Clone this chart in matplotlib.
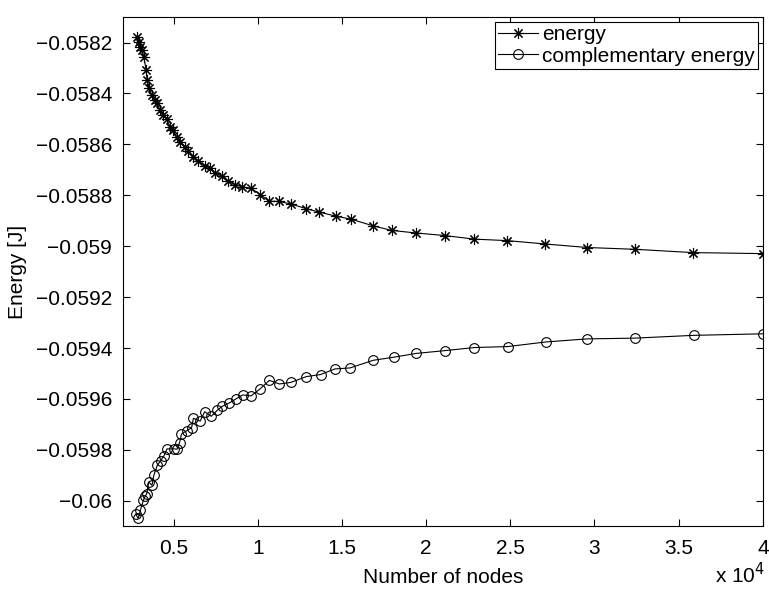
import matplotlib.pyplot as plt
from matplotlib.ticker import FuncFormatter

nodes_energy = [2840, 2940, 3030, 3130, 3230, 3370, 3430, 3560, 3700, 3870,
                4010, 4210, 4400, 4590, 4800, 4990, 5180, 5380, 5680, 5870,
                6160, 6470, 6870, 7170, 7470, 7860, 8250, 8660, 9050, 9610,
                10160, 10650, 11290, 11960, 12860, 13650, 14650, 15560, 16860, 17960,
                19420, 21100, 22860, 24830, 27040, 29580, 32390, 35860, 40000]
energy = [-0.058178, -0.058196, -0.058216, -0.058229, -0.058255, -0.058308, -0.058347,
          -0.058380, -0.058406, -0.058426, -0.058438, -0.058466, -0.058486, -0.058499,
          -0.058532, -0.058545, -0.058572, -0.058592, -0.058611, -0.058624, -0.058651,
          -0.058665, -0.058685, -0.058692, -0.058712, -0.058725, -0.058745, -0.058758,
          -0.058766, -0.058773, -0.058797, -0.058823, -0.058824, -0.058834, -0.058852,
          -0.058866, -0.058882, -0.058894, -0.058920, -0.058938, -0.058948, -0.058958,
          -0.058972, -0.058978, -0.058991, -0.059005, -0.059012, -0.059025, -0.059029]

nodes_compl = [2750, 2900, 3030, 3210, 3310, 3410, 3520, 3720, 3830, 4030,
               4240, 4440, 4610, 5010, 5210, 5360, 5470, 5770, 6070, 6180,
               6580, 6850, 7240, 7590, 7890, 8300, 8700, 9110, 9600,
               10110, 10690, 11280, 11960, 12890, 13730, 14580, 15480, 16860, 18070,
               19410, 21120, 22850, 24860, 27110, 29550, 32380, 35890, 40000]
compl_energy = [-0.060052, -0.060069, -0.060037, -0.059998, -0.059982, -0.059972,
                -0.059926, -0.059939, -0.059900, -0.059861, -0.059842, -0.059822,
                -0.059796, -0.059796, -0.059797, -0.059771, -0.059738, -0.059725,
                -0.059713, -0.059676, -0.059687, -0.059650, -0.059668, -0.059645,
                -0.059629, -0.059616, -0.059600, -0.059584, -0.059588, -0.059562,
                -0.059527, -0.059541, -0.059535, -0.059512, -0.059504, -0.059482,
                -0.059478, -0.059448, -0.059436, -0.059421, -0.059410, -0.059398,
                -0.059394, -0.059376, -0.059364, -0.059361, -0.059350, -0.059344]

x_ticks = [5000, 10000, 15000, 20000, 25000, 30000, 35000, 40000]
y_ticks = [-0.0582, -0.0584, -0.0586, -0.0588, -0.059, -0.0592,
           -0.0594, -0.0596, -0.0598, -0.06]

plt.rcParams['font.family'] = ['Liberation Sans', 'DejaVu Sans']
fs = 15

fig = plt.figure(figsize=(7.69, 5.90), dpi=100)
ax = fig.add_axes([0.16, 0.108, 0.832, 0.863])

# MATLAB-artiges Sternchen: 8 Strahlen
ax.plot(nodes_energy, energy, color='black', linewidth=0.8, marker=(8, 2, 0),
        markersize=8, markeredgewidth=0.8, label='energy')
ax.plot(nodes_compl, compl_energy, color='black', linewidth=0.8, marker='o',
        markersize=7, markerfacecolor='none', markeredgewidth=0.8,
        label='complementary energy')

ax.set_xlim(2000, 40000)
ax.set_ylim(-0.0601, -0.0581)
ax.set_xticks(x_ticks)
ax.set_yticks(y_ticks)
ax.xaxis.set_major_formatter(FuncFormatter(lambda v, p: '%g' % (v / 1e4)))
ax.yaxis.set_major_formatter(FuncFormatter(lambda v, p: ('%g' % v).replace('-', '\u2212')))
ax.tick_params(direction='in', top=True, right=True, labelsize=fs, length=5, width=0.8)
ax.tick_params(axis='y', pad=8)
ax.tick_params(axis='x', pad=9)
for s in ax.spines.values():
    s.set_linewidth(0.8)

ax.set_xlabel('Number of nodes', fontsize=fs, labelpad=7)
ax.set_ylabel('Energy [J]', fontsize=fs, labelpad=6)
ax.text(1.004, -0.07, 'x 10$^4$', transform=ax.transAxes, ha='right', va='top',
        fontsize=fs)

leg = ax.legend(loc='upper right', fontsize=fs, fancybox=False, framealpha=1,
                edgecolor='black', borderaxespad=0.25, borderpad=0.15,
                labelspacing=0.1, handlelength=1.9, handletextpad=0.2)
leg.get_frame().set_linewidth(0.8)

fig.savefig('out.png', dpi=100)
